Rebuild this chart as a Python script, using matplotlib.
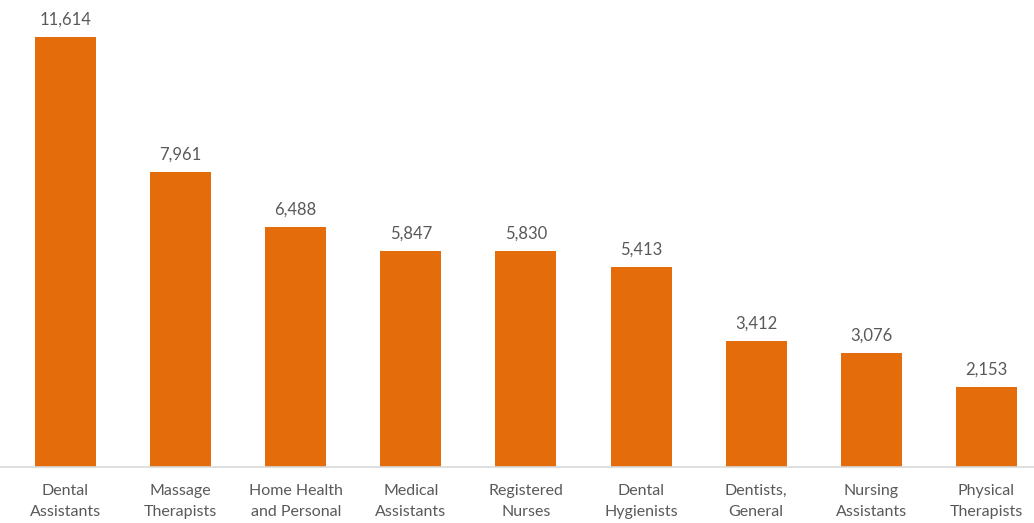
import matplotlib
matplotlib.use("Agg")
from matplotlib import pyplot as plt

# datos del gráfico
ocupaciones = ["Dental\nAssistants", "Massage\nTherapists", "Home Health\nand Personal",
               "Medical\nAssistants", "Registered\nNurses", "Dental\nHygienists",
               "Dentists,\nGeneral", "Nursing\nAssistants", "Physical\nTherapists"]
valores = [11614, 7961, 6488, 5847, 5830, 5413, 3412, 3076, 2153]

plt.rcParams['font.family'] = ['Lato', 'DejaVu Sans']
gris = "#595959"
naranja = "#E46C0A"

fig = plt.figure(figsize=(10.34, 5.23), dpi=100)
ax = fig.add_axes([0, 56/523, 1, 467/523])

pos = range(len(valores))
barras = ax.bar(pos, valores, width=0.53, color=naranja)

for x, v in zip(pos, valores):
    ax.text(x, v + 250, f"{v:,}", ha="center", va="bottom", fontsize=12, color=gris)

ax.set_xlim(-0.569, 8.414)
ax.set_ylim(0, 12615)
ax.set_xticks(list(pos))
ax.set_xticklabels(ocupaciones, fontsize=11.5, color=gris, linespacing=1.6)
ax.tick_params(axis="x", length=0, pad=12.5)
ax.set_yticks([])

for lado in ["top", "right", "left"]:
    ax.spines[lado].set_visible(False)
ax.spines["bottom"].set_color("#D9D9D9")
ax.spines["bottom"].set_linewidth(1.2)

fig.savefig("out.png", dpi=100)
